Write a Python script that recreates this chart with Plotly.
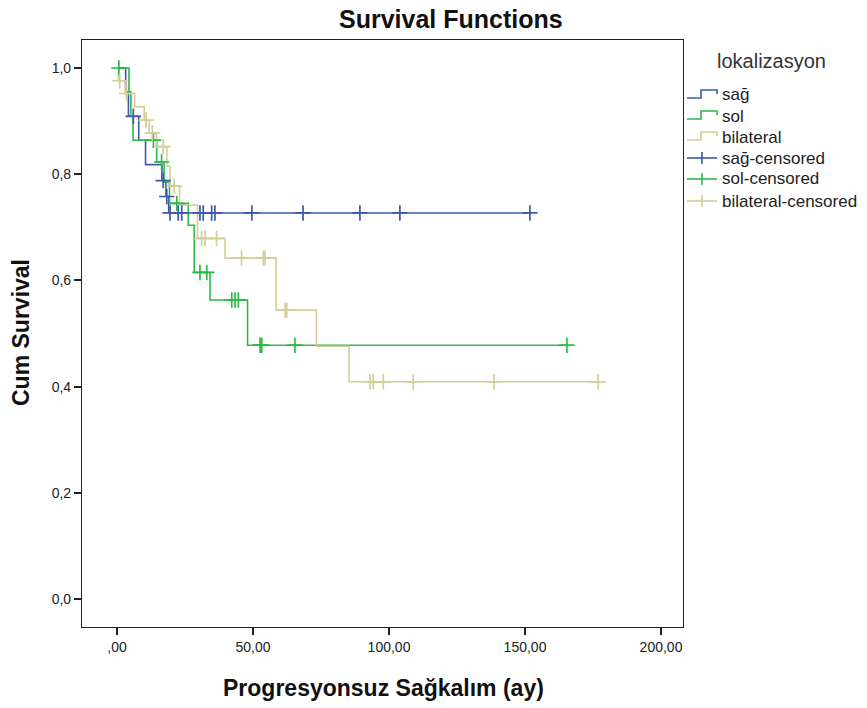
import plotly.graph_objects as go

# ---------------- data ----------------
groups = ["sağ", "sol", "bilateral"]
colors = ["#3E58AC", "#2EB848", "#D3CE97"]

sag_event_t = [0, 3.2, 4.2, 8.0, 10.5, 16.5, 18.0, 19.0]
sag_event_s = [1.0, 0.955, 0.909, 0.864, 0.818, 0.788, 0.758, 0.727]
sag_cens_t = [6.0, 17.0, 18.3, 19.5, 22.5, 23.8, 30.5, 31.7, 34.8, 36.0,
              49.6, 68.4, 89.3, 104.0, 151.8]

sol_event_t = [0, 4.4, 5.1, 5.9, 14.6, 17.3, 19.3, 26.2, 28.4, 34.2, 48.0]
sol_event_s = [1.0, 0.955, 0.909, 0.864, 0.823, 0.785, 0.745, 0.704, 0.615, 0.563, 0.478]
sol_cens_t = [0.7, 13.4, 16.4, 22.0, 30.5, 33.0, 42.2, 43.4, 44.6, 52.6, 53.2,
              65.4, 165.4]

bil_event_t = [0, 0.5, 3.0, 6.5, 10.0, 11.8, 14.5, 18.3, 19.5, 23.0, 29.6, 39.7,
               58.5, 73.3, 85.3]
bil_event_s = [1.0, 0.976, 0.952, 0.927, 0.902, 0.878, 0.852, 0.815, 0.778, 0.742,
               0.679, 0.642, 0.544, 0.476, 0.409]
bil_cens_t = [1.0, 3.5, 10.7, 13.0, 17.0, 21.0, 31.1, 32.4, 36.6, 45.8, 53.8, 54.4,
              61.8, 62.4, 93.0, 94.2, 97.9, 108.9, 138.6, 176.9]

x_tickvals = [0, 50, 100, 150, 200]
x_ticktext = [",00", "50,00", "100,00", "150,00", "200,00"]
y_tickvals = [0.0, 0.2, 0.4, 0.6, 0.8, 1.0]
y_ticktext = ["0,0", "0,2", "0,4", "0,6", "0,8", "1,0"]

legend_labels = ["sağ", "sol", "bilateral", "sağ-censored", "sol-censored",
                 "bilateral-censored"]

# ---------------- helpers ----------------
def level(ts, ss, t):
    v = ss[0]
    for ti, si in zip(ts, ss):
        if ti <= t:
            v = si
    return v

series = [
    (sag_event_t, sag_event_s, sag_cens_t),
    (sol_event_t, sol_event_s, sol_cens_t),
    (bil_event_t, bil_event_s, bil_cens_t),
]

fig = go.Figure()

for (et, es, ct), col, name in zip(series, colors, groups):
    end_t = max(ct[-1], et[-1])
    fig.add_trace(go.Scatter(
        x=et + [end_t], y=es + [es[-1]], mode="lines",
        line=dict(color=col, width=1.6, shape="hv"),
        name=name, showlegend=False, hoverinfo="skip"))

for (et, es, ct), col, name in zip(series, colors, groups):
    fig.add_trace(go.Scatter(
        x=ct, y=[level(et, es, t) for t in ct], mode="markers",
        marker=dict(symbol="cross-thin", size=11,
                    line=dict(color=col, width=1.7)),
        name=name + "-censored", showlegend=False, hoverinfo="skip"))

# plot area in pixels
L, R, T, B = 82, 683, 40, 627
W, H = 867, 708

def px(xp):
    return (xp - L) / (R - L)

def py(yp):
    return (B - yp) / (B - T)

shapes = []
annotations = []

# title and axis titles
annotations.append(dict(text="<b>Survival Functions</b>", x=px(451), y=py(19),
                        xref="paper", yref="paper", showarrow=False,
                        font=dict(size=25, color="#111"),
                        xanchor="center", yanchor="middle"))
annotations.append(dict(text="<b>Cum Survival</b>", x=px(21), y=py(333),
                        xref="paper", yref="paper", showarrow=False, textangle=-90,
                        font=dict(size=23, color="#111"),
                        xanchor="center", yanchor="middle"))
annotations.append(dict(text="<b>Progresyonsuz Sağkalım (ay)</b>", x=px(383), y=py(688),
                        xref="paper", yref="paper", showarrow=False,
                        font=dict(size=23, color="#111"),
                        xanchor="center", yanchor="middle"))

# manual legend
annotations.append(dict(text="lokalizasyon", x=px(771), y=py(61),
                        xref="paper", yref="paper", showarrow=False,
                        font=dict(size=20, color="#333"),
                        xanchor="center", yanchor="middle"))
item_y = [95, 116, 137, 158, 179, 201]
leg_colors = colors + colors
for i, (lab, yy, col) in enumerate(zip(legend_labels, item_y, leg_colors)):
    annotations.append(dict(text=lab, x=px(720), y=py(yy),
                            xref="paper", yref="paper", showarrow=False,
                            font=dict(size=17, color="#222"),
                            xanchor="left", yanchor="middle"))
    if i < 3:
        path = (f"M {px(687)} {py(yy + 3)} L {px(701)} {py(yy + 3)} "
                f"L {px(701)} {py(yy - 5)} L {px(717)} {py(yy - 5)} "
                f"L {px(717)} {py(yy - 1)}")
        shapes.append(dict(type="path", path=path, xref="paper", yref="paper",
                           line=dict(color=col, width=1.6)))
    else:
        shapes.append(dict(type="line", x0=px(687), x1=px(717), y0=py(yy), y1=py(yy),
                           xref="paper", yref="paper", line=dict(color=col, width=1.6)))
        shapes.append(dict(type="line", x0=px(702), x1=px(702), y0=py(yy - 6),
                           y1=py(yy + 6), xref="paper", yref="paper",
                           line=dict(color=col, width=1.6)))

x0 = (L - 117) / 2.72
x1 = (R - 117) / 2.72
y1 = (599 - T) / 531
y0 = (599 - B) / 531

fig.update_layout(
    width=W, height=H,
    margin=dict(l=L, r=W - R, t=T, b=H - B, pad=0),
    paper_bgcolor="white", plot_bgcolor="white",
    showlegend=False,
    font=dict(family="Arial, Liberation Sans, sans-serif", size=14, color="#222"),
    shapes=shapes, annotations=annotations,
    xaxis=dict(range=[x0, x1], tickvals=x_tickvals, ticktext=x_ticktext,
               showgrid=False, zeroline=False, showline=True, mirror=True,
               linecolor="#222", linewidth=1.2, ticks="outside", ticklen=7,
               tickwidth=1.5, tickcolor="#222", tickfont=dict(size=14)),
    yaxis=dict(range=[y0, y1], tickvals=y_tickvals, ticktext=y_ticktext,
               showgrid=False, zeroline=False, showline=True, mirror=True,
               linecolor="#222", linewidth=1.2, ticks="outside", ticklen=7,
               tickwidth=1.5, tickcolor="#222", tickfont=dict(size=14)),
)

fig.write_html("out.html")
